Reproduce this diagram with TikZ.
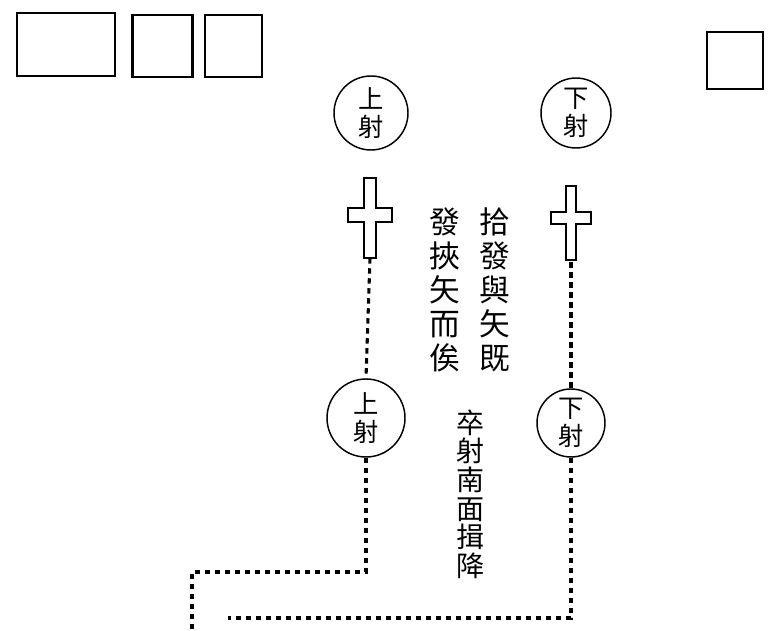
\documentclass[tikz,border=0pt]{standalone}
\usepackage{fontspec}
\newfontfamily\cjk{Noto Sans CJK TC}
\usetikzlibrary{positioning,calc}

\begin{document}
\begin{tikzpicture}[
  x=0.75pt, y=-0.75pt,
  seat/.style     = {draw, line width=1.7pt, minimum width=45pt,
                     minimum height=46pt, inner sep=0pt},
  archer/.style   = {draw, circle, line width=1.1pt, minimum size=54pt,
                     inner sep=0pt, align=center,
                     font=\cjk\fontsize{19}{21}\selectfont},
  crossbox/.style = {minimum width=34pt, minimum height=60pt, inner sep=0pt},
  crossline/.style = {line width=1.1pt},
  trail/.style    = {line width=2.3pt, dash pattern=on 4pt off 3.5pt},
  column/.style   = {inner sep=0pt, align=center,
                     font=\cjk\fontsize{23}{25.5}\selectfont}
]
  \useasboundingbox (0,0) rectangle (768,631);

  % Seats along the top
  \node[seat, minimum width=73.5pt, minimum height=47pt] (seatA) at (66,44.5) {};
  \node[seat] (seatB) at (162.5,46) {};
  \node[seat, minimum width=42.75pt] (seatC) at (233.5,46) {};
  \node[seat, minimum width=42pt, minimum height=42.75pt] (seatD) at (735,60.5) {};

  % Archers at their first places
  \node[archer, minimum size=55.5pt] (shangA) at (371,113) {上\\射};
  \node[archer, minimum size=52.5pt] (xiaA)   at (576,113) {下\\射};

  % Cross marks (wu)
  \node[crossbox] (crossL) at (370,218) {};
  \node[crossbox] (crossR) at (571,222) {};
  \draw[crossline, shift={(crossL.center)}]
    (-6,-40) -- (6,-40) -- (6,-10) -- (22,-10) -- (22,4) -- (6,4) -- (6,40)
    -- (-6,40) -- (-6,4) -- (-22,4) -- (-22,-10) -- (-6,-10) -- cycle;
  \draw[crossline, shift={(crossR.center)}]
    (-5,-36) -- (5,-36) -- (5,-10) -- (20,-10) -- (20,2) -- (5,2) -- (5,38)
    -- (-5,38) -- (-5,2) -- (-20,2) -- (-20,-10) -- (-5,-10) -- cycle;

  % Archers after shooting
  \node[archer, minimum size=58.5pt] (shangB) at (366,418) {上\\射};
  \node[archer, minimum size=51pt]   (xiaB)   at (571,423) {下\\射};

  % Texts
  \node[column] (txtR) at (495,290) {拾\\發\\與\\矢\\既};
  \node[column] (txtL) at (445,290) {發\\挾\\矢\\而\\俟};
  \node[column, font=\cjk\fontsize{21}{21.5}\selectfont] (txtB) at (470,494)
    {卒\\射\\南\\面\\揖\\降};

  % Paths
  \coordinate (turnL) at (192,572);
  \coordinate (exitL) at (192,631);
  \coordinate (endR)  at (228,618);

  \draw[trail] (crossL.south) -- (shangB.north);
  \draw[trail] (shangB.south) |- (turnL) -- (exitL);
  \draw[trail] (crossR.south) -- (xiaB.north);
  \draw[trail] (xiaB.south) |- (endR);
\end{tikzpicture}
\end{document}
